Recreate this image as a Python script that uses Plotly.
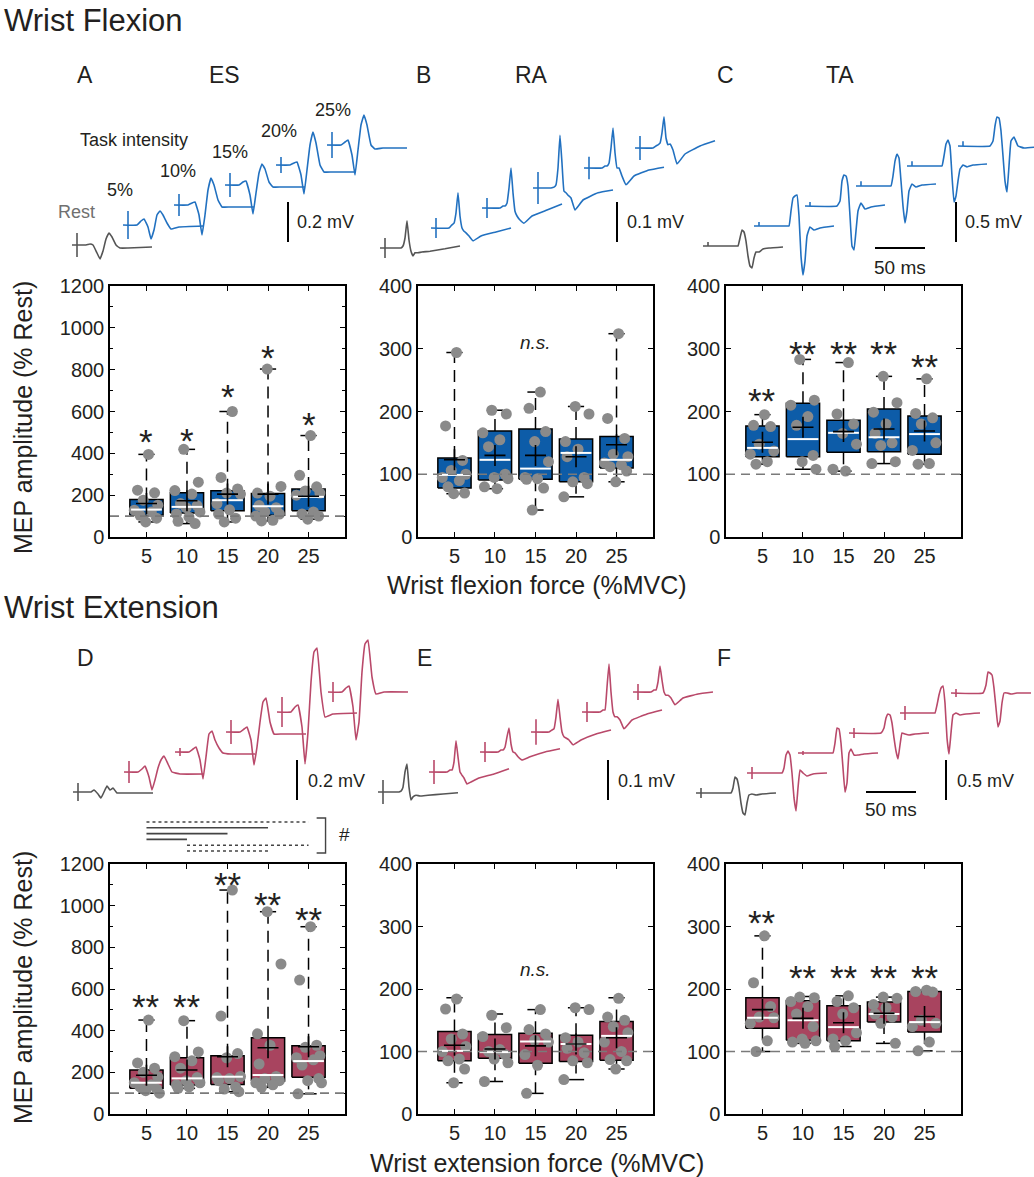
import plotly.graph_objects as go

W, H = 1034, 1177
FONT = "Liberation Sans, Arial, Helvetica, sans-serif"
INK = "#231f20"
BLUE_BOX = "#0d5ca8"
BLUE_TR = "#2271c0"
RED_BOX = "#a8445f"
RED_TR = "#b9496a"
REST_TR = "#555555"
DOT = "#8a8a8a"

force_labels = ["5", "10", "15", "20", "25"]
intensity_labels = ["5%", "10%", "15%", "20%", "25%"]

# ---------------- Box-plot data (MEP amplitude, % Rest) ----------------
# A: ES, wrist flexion
A_q1 = [104, 115, 125, 104, 125]
A_med = [131, 144, 176, 147, 192]
A_q3 = [179, 211, 221, 208, 230]
A_lo = [72, 64, 72, 77, 85]
A_hi = [395, 419, 600, 803, 485]
A_mean = [160, 173, 205, 205, 195]
A_pts = [[395, 224, 211, 176, 152, 128, 120, 104, 90, 72],
         [419, 262, 222, 205, 160, 150, 140, 120, 110, 95, 75, 64],
         [600, 285, 230, 210, 205, 160, 130, 110, 90, 72],
         [803, 242, 210, 195, 150, 140, 120, 110, 100, 80, 77],
         [485, 295, 240, 220, 210, 200, 120, 110, 100, 85]]
A_sig = ["*", "*", "*", "*", "*"]
A_sig_y = [480, 485, 696, 880, 560]

# B: RA, wrist flexion
B_q1 = [78, 91, 92, 88, 110]
B_med = [99, 123, 109, 134, 123]
B_q3 = [126, 169, 172, 156, 160]
B_lo = [69, 77, 43, 64, 88]
B_hi = [294, 202, 231, 208, 324]
B_mean = [123, 130, 130, 128, 147]
B_pts = [[294, 177, 122, 106, 100, 95, 90, 80, 70, 69],
         [202, 196, 166, 155, 144, 100, 95, 93, 80, 77],
         [231, 205, 168, 152, 120, 95, 93, 92, 78, 43],
         [208, 196, 152, 140, 128, 95, 88, 85, 64],
         [324, 189, 157, 132, 128, 118, 115, 112, 105, 88]]
B_sig = ["", "", "", "", ""]
B_sig_y = [0, 0, 0, 0, 0]

# C: TA, wrist flexion
C_q1 = [128, 128, 135, 136, 132]
C_med = [142, 156, 166, 159, 164]
C_q3 = [177, 213, 186, 204, 193]
C_lo = [116, 108, 105, 117, 116]
C_hi = [195, 283, 278, 256, 252]
C_mean = [151, 175, 168, 172, 169]
C_pts = [[195, 178, 176, 148, 137, 132, 120, 116],
         [283, 218, 210, 192, 178, 130, 120, 108],
         [278, 196, 180, 165, 148, 108, 105],
         [256, 214, 199, 180, 165, 150, 146, 120, 117],
         [252, 197, 190, 180, 150, 138, 117, 116]]
C_sig = ["**", "**", "**", "**", "**"]
C_sig_y = [225, 300, 300, 300, 280]

# D: ES, wrist extension
D_q1 = [123, 139, 142, 158, 176]
D_med = [150, 171, 179, 187, 254]
D_q3 = [211, 270, 280, 366, 328]
D_lo = [100, 123, 107, 128, 97]
D_hi = [451, 448, 1075, 971, 899]
D_mean = [186, 211, 275, 318, 323]
D_pts = [[451, 245, 220, 200, 178, 150, 140, 130, 120, 112, 100],
         [448, 298, 275, 255, 220, 175, 160, 150, 140, 130, 123],
         [1075, 470, 290, 270, 180, 175, 170, 160, 130, 120, 107],
         [971, 720, 385, 330, 240, 180, 170, 160, 150, 140, 128],
         [899, 643, 330, 320, 280, 270, 260, 235, 170, 160, 150, 97]]
D_sig = ["**", "**", "**", "**", "**"]
D_sig_y = [542, 538, 1126, 1030, 960]

# E: RA, wrist extension
E_q1 = [85, 89, 81, 84, 86]
E_med = [101, 99, 116, 112, 125]
E_q3 = [132, 127, 129, 126, 148]
E_lo = [50, 52, 33, 55, 72]
E_hi = [186, 160, 167, 170, 186]
E_mean = [110, 104, 109, 112, 122]
E_pts = [[184, 168, 128, 120, 108, 100, 88, 85, 72, 50],
         [158, 138, 124, 103, 100, 95, 88, 82, 52],
         [167, 135, 128, 118, 115, 95, 78, 33],
         [170, 167, 122, 115, 105, 98, 85, 82, 55],
         [185, 155, 150, 140, 130, 115, 100, 87, 85, 72]]
E_sig = ["", "", "", "", ""]
E_sig_y = [0, 0, 0, 0, 0]

# F: TA, wrist extension
F_q1 = [137, 118, 117, 147, 131]
F_med = [154, 150, 139, 160, 147]
F_q3 = [186, 181, 173, 179, 196]
F_lo = [100, 113, 108, 113, 101]
F_hi = [285, 188, 189, 187, 198]
F_mean = [167, 153, 146, 161, 156]
F_pts = [[285, 210, 172, 155, 154, 145, 117, 100],
         [187, 186, 180, 172, 160, 140, 120, 117, 115, 113],
         [189, 180, 170, 160, 130, 120, 117, 108],
         [187, 185, 175, 170, 160, 155, 145, 113],
         [198, 196, 195, 150, 145, 140, 115, 101]]
F_sig = ["**", "**", "**", "**", "**"]
F_sig_y = [315, 226, 226, 226, 226]

# pairwise comparisons (#) for panel D: (from, to, solid?)
D_pairs = [(1, 5, False), (1, 4, True), (1, 3, True), (1, 2, True), (2, 5, False), (2, 4, False)]

# ---------------- Representative MEP waveforms ----------------
# time (ms from sweep start; stimulus at 5 ms) and amplitude (µV) for Rest, 5..25 %MVC
T_ES = [0, 14, 18, 21, 25, 28, 31, 34, 37, 40, 44, 48, 56, 80]
ES_flex = [[0, 0, 5, 0, -40, -70, -30, 30, 60, 40, 0, -15, -15, -10],
           [0, 0, 20, 30, -10, -70, -25, 50, 70, 50, 10, -20, -10, -5],
           [0, 0, 10, 15, -50, -150, -50, 75, 135, 100, 25, -10, -10, -10],
           [0, 0, 15, 20, -50, -145, -40, 60, 105, 80, 15, -10, -10, -10],
           [0, 0, 10, 15, -50, -145, -25, 100, 165, 110, 0, -35, -35, -35],
           [0, 0, 15, 25, -50, -150, -25, 100, 150, 100, 0, -20, -15, -15]]
ES_ext = [[0, 0, 0, 10, -10, -30, 0, 30, 10, 20, -5, -5, -5, -5],
          [0, 0, 15, 30, -25, -90, -40, 20, 60, 80, 40, 0, -10, -10],
          [0, 0, 15, 25, -40, -135, -25, 90, 105, 60, 20, -5, -10, -10],
          [0, 0, 15, 25, -40, -165, -75, 50, 150, 170, 50, -10, -10, -10],
          [0, 0, 25, 35, -75, -260, -100, 150, 300, 320, 100, -25, -10, -5],
          [0, 0, 20, 30, -75, -240, -150, 100, 240, 260, 75, -10, 0, 0]]
T_RA = [0, 18, 21, 23, 25, 27, 29, 31, 33, 35, 38, 42, 50, 65, 80]
RA_flex = [[0, 0, 0, 5, 25, 68, 20, -8, -20, -12, -12, -10, -8, -2, 5],
           [0, 0, 8, 12, 38, 88, 30, 0, -8, -12, -20, -32, -20, -10, 0],
           [0, 0, 5, 5, 12, 50, 100, 38, -8, -20, -30, -38, -20, -5, 10],
           [0, 0, 2, 8, 50, 132, 62, -8, -12, -18, -25, -55, -30, -12, -5],
           [0, 0, 5, 5, 12, 50, 100, 38, 0, 0, -20, -42, -20, -5, 2],
           [0, 0, 5, 8, 12, 38, 78, 25, 8, 10, -5, -40, -15, 5, 18]]
RA_ext = [[0, 0, 0, 2, 12, 50, 70, 12, -20, -12, -8, -10, -8, -5, -2],
          [0, 0, 5, 5, 25, 78, 38, 0, -8, -15, -30, -25, -15, -5, 8],
          [0, 0, 5, 5, 12, 38, 60, 20, 0, -2, -12, -20, -12, 0, 8],
          [0, 0, 5, 8, 38, 82, 38, 0, -12, -15, -20, -32, -20, -5, 5],
          [0, 0, 5, 5, 62, 120, 50, 0, -12, -12, -20, -42, -20, -5, 5],
          [0, 0, 5, 5, 25, 65, 30, 0, -8, -8, -15, -32, -15, -5, 0]]
T_TA = [0, 32, 35, 37, 39, 41, 43, 45, 47, 49, 51, 53, 56, 60, 66, 80]
TA_flex = [[0, 0, 0, 100, 200, 175, 62, -125, -250, -275, -150, -75, -75, -38, -25, -12],
           [0, 0, 0, 188, 350, 375, 388, 125, -375, -612, -438, -125, -12, -50, -25, 0],
           [0, 0, 62, 312, 388, 375, 250, -125, -500, -550, -312, -62, 38, -38, -12, 12],
           [0, 0, 0, 125, 312, 400, 350, 62, -250, -462, -312, -62, 25, -12, 12, 25],
           [0, 0, 0, 125, 275, 325, 250, -125, -450, -375, -188, -38, 12, -12, 12, 25],
           [0, 0, 62, 250, 362, 350, 188, -125, -438, -575, -250, 62, 112, 0, -25, -12]]
TA_ext = [[0, 0, 0, 62, 200, 175, 62, -125, -250, -275, -125, -25, -12, -25, -12, 0],
          [0, 0, 0, 62, 225, 275, 225, 0, -312, -475, -188, 38, 0, -38, -12, 0],
          [0, 0, 0, 125, 312, 300, 125, -188, -488, -375, 0, 50, -25, -25, -12, 0],
          [0, 0, 62, 188, 238, 225, 125, -62, -225, -325, -150, 0, -12, -25, -12, 0],
          [0, 0, 0, 100, 225, 312, 338, 125, -312, -512, -250, -25, 0, -25, -12, 0],
          [0, 0, 100, 262, 250, 225, 62, -188, -425, -350, -125, 0, 0, -12, 0, 0]]
# stimulus artifact half-amplitude (µV)
ART_A = [60, 70, 55, 60, 40, 65]
ART_B = [25, 25, 25, 40, 28, 30]
ART_C = [50, 50, 50, 60, 60, 60]
ART_D = [45, 55, 20, 60, 75, 50]
ART_E = [30, 30, 25, 32, 25, 20]
ART_F = [62, 75, 25, 62, 88, 50]

# ---------------- helpers ----------------
def fx(px):
    return px / W


def fy(py):
    return 1 - py / H


fig = go.Figure()
annotations = []
shapes = []
layout_axes = {}


def ann(text, px, py, size, xanchor="center", color=INK, **kw):
    annotations.append(dict(text=text, x=fx(px), y=fy(py), xref="paper", yref="paper",
                            xanchor=xanchor, yanchor="middle", showarrow=False,
                            font=dict(family=FONT, size=size, color=color), **kw))


def axname(n, kind):
    return kind if n == 1 else f"{kind}{n}"


JITTER = [0.05, -0.22, 0.2, -0.08, 0.28, -0.3, 0.12, -0.16, 0.25, -0.02, 0.32, -0.26]
HW = 0.41
CW = 0.2

box_panels = [
    (1, (110, 345, 286, 537), 1200, BLUE_BOX, A_q1, A_med, A_q3, A_lo, A_hi, A_mean, A_pts, A_sig, A_sig_y),
    (2, (418, 653, 286, 537), 400, BLUE_BOX, B_q1, B_med, B_q3, B_lo, B_hi, B_mean, B_pts, B_sig, B_sig_y),
    (3, (726, 961, 286, 537), 400, BLUE_BOX, C_q1, C_med, C_q3, C_lo, C_hi, C_mean, C_pts, C_sig, C_sig_y),
    (4, (110, 345, 864, 1114), 1200, RED_BOX, D_q1, D_med, D_q3, D_lo, D_hi, D_mean, D_pts, D_sig, D_sig_y),
    (5, (418, 653, 864, 1114), 400, RED_BOX, E_q1, E_med, E_q3, E_lo, E_hi, E_mean, E_pts, E_sig, E_sig_y),
    (6, (726, 961, 864, 1114), 400, RED_BOX, F_q1, F_med, F_q3, F_lo, F_hi, F_mean, F_pts, F_sig, F_sig_y),
]

for n, (l, r, t, b), ymax, fill, q1s, meds, q3s, los, his, means, ptss, sigs, sig_ys in box_panels:
    xa, ya = axname(n, "x"), axname(n, "y")
    common = dict(xaxis=xa, yaxis=ya, showlegend=False, hoverinfo="skip")
    for i in range(5):
        x = i + 1
        q1, med, q3, lo, hi, mean, pts = q1s[i], meds[i], q3s[i], los[i], his[i], means[i], ptss[i]
        fig.add_trace(go.Scatter(x=[x, x, None, x, x], y=[q3, hi, None, q1, lo], mode="lines",
                                 line=dict(color="black", width=1.5, dash="12px,7px"), **common))
        fig.add_trace(go.Scatter(x=[x - CW, x + CW, None, x - CW, x + CW], y=[hi, hi, None, lo, lo],
                                 mode="lines", line=dict(color="black", width=1.5), **common))
        fig.add_trace(go.Scatter(x=[x - HW, x + HW, x + HW, x - HW, x - HW], y=[q1, q1, q3, q3, q1],
                                 mode="lines", fill="toself", fillcolor=fill,
                                 line=dict(color="black", width=1.5), **common))
        offs = [JITTER[(j + 3 * i) % len(JITTER)] for j in range(len(pts))]
        fig.add_trace(go.Scatter(x=[x + o for o in offs], y=pts, mode="markers",
                                 marker=dict(color=DOT, size=11, line=dict(width=0)), **common))
        fig.add_trace(go.Scatter(x=[x - HW + 0.03, x + HW - 0.03], y=[med, med], mode="lines",
                                 line=dict(color="white", width=2), **common))
        fig.add_trace(go.Scatter(x=[x], y=[mean], mode="markers",
                                 marker=dict(symbol="cross-thin", size=15, color="black",
                                             line=dict(color="black", width=1.6)), **common))
        if sigs[i]:
            annotations.append(dict(text=sigs[i], x=x, y=sig_ys[i], xref=xa, yref=ya, showarrow=False,
                                    xanchor="center", yanchor="middle", yshift=-5,
                                    font=dict(family=FONT, size=35, color=INK)))
    shapes.append(dict(type="line", xref=f"{xa} domain", yref=ya, x0=0, x1=1, y0=100, y1=100,
                       line=dict(color="#7a7a7a", width=1.6, dash="9px,6px"), layer="above"))
    axis_common = dict(showline=True, linecolor="black", linewidth=1.5, mirror="ticks",
                       ticks="inside", ticklen=5, tickwidth=1.3, tickcolor="black",
                       showgrid=False, zeroline=False, automargin=False,
                       tickfont=dict(family=FONT, size=20, color=INK))
    layout_axes["xaxis" if n == 1 else f"xaxis{n}"] = dict(
        domain=[fx(l), fx(r)], range=[0.1, 5.9], tickvals=[1, 2, 3, 4, 5], ticktext=force_labels,
        anchor=ya, **axis_common)
    ydict = dict(domain=[fy(b), fy(t)], range=[0, ymax], dtick=ymax / (6 if ymax > 400 else 4),
                 anchor=xa, **axis_common)
    if ymax > 400:
        ydict["minor"] = dict(dtick=100, ticks="inside", ticklen=3, tickcolor="black", showgrid=False)
    layout_axes["yaxis" if n == 1 else f"yaxis{n}"] = ydict

# n.s. labels
annotations.append(dict(text="<i>n.s.</i>", x=3, y=310, xref="x2", yref="y2", showarrow=False,
                        font=dict(family=FONT, size=19, color=INK)))
annotations.append(dict(text="<i>n.s.</i>", x=3, y=231, xref="x5", yref="y5", showarrow=False,
                        font=dict(family=FONT, size=19, color=INK)))

# # comparison lines in panel D
for row, (a, b, solid) in enumerate(D_pairs):
    py = 822 + row * 5.8
    shapes.append(dict(type="line", xref="x4", yref="paper", x0=a, x1=b, y0=fy(py), y1=fy(py),
                       line=dict(color="#444444", width=1.6 if solid else 1.4,
                                 dash="solid" if solid else "dot")))
shapes.append(dict(type="path", xref="x4", yref="paper",
                   path=f"M 5.2,{fy(818)} L 5.42,{fy(818)} L 5.42,{fy(853)} L 5.2,{fy(853)}",
                   line=dict(color="#444444", width=1.4)))
ann("#", 337, 834, 19, xanchor="left")

# ---------------- waveform panels ----------------
STEP_MS = 51
STEP_PX = 20
trace_panels = [
    (7, 72, 245, 200, T_ES, ES_flex, ART_A, True, BLUE_TR, (216, 0.015, 0.2), None),
    (8, 380, 248, 400, T_RA, RA_flex, ART_B, True, BLUE_TR, (237, 0.015, 0.1), None),
    (9, 703, 246, 80, T_TA, TA_flex, ART_C, False, BLUE_TR, (253, 0.05, 0.5), (172, -0.025)),
    (10, 73, 792, 200, T_ES, ES_ext, ART_D, True, RED_TR, (224, -0.04, 0.2), None),
    (11, 378, 792, 400, T_RA, RA_ext, ART_E, True, RED_TR, (230, -0.02, 0.1), None),
    (12, 696, 793, 80, T_TA, TA_ext, ART_F, True, RED_TR, (250, -0.0875, 0.5), (170, 0.0125)),
]
for n, L, base, ppm, T, vals, art, sym, col, bar, tbar in trace_panels:
    xa, ya = f"x{n}", f"y{n}"
    common = dict(xaxis=xa, yaxis=ya, showlegend=False, hoverinfo="skip")
    wid = min(360, W - L)
    layout_axes[f"xaxis{n}"] = dict(domain=[fx(L), fx(L + wid)], range=[0, wid], visible=False,
                                    anchor=ya, fixedrange=True, automargin=False)
    layout_axes[f"yaxis{n}"] = dict(domain=[fy(base + 45), fy(base - 170)],
                                    range=[-45 / ppm, 170 / ppm], visible=False, anchor=xa,
                                    fixedrange=True, automargin=False)
    for k in range(6):
        color = REST_TR if k == 0 else col
        x0 = k * STEP_MS
        y0 = k * STEP_PX / ppm
        fig.add_trace(go.Scatter(x=[x0 + t for t in T], y=[y0 + v / 1000 for v in vals[k]],
                                 mode="lines",
                                 line=dict(color=color, width=1.6, shape="spline", smoothing=0.3),
                                 **common))
        a = art[k] / 1000
        fig.add_trace(go.Scatter(x=[x0 + 5, x0 + 5], y=[y0 - a if sym else y0, y0 + a],
                                 mode="lines", line=dict(color=color, width=1.6), **common))
    bx, by0, blen = bar
    fig.add_trace(go.Scatter(x=[bx, bx], y=[by0, by0 + blen], mode="lines",
                             line=dict(color="black", width=2), **common))
    if tbar:
        tx0, ty = tbar
        fig.add_trace(go.Scatter(x=[tx0, tx0 + 50], y=[ty, ty], mode="lines",
                                 line=dict(color="black", width=2), **common))

# ---------------- text ----------------
ann("Wrist Flexion", 2, 20, 31, xanchor="left")
ann("Wrist Extension", 2, 607, 31, xanchor="left")
for txt, px, py in [("A", 85, 75), ("ES", 224, 75), ("B", 423, 75), ("RA", 531, 75),
                    ("C", 725, 75), ("TA", 840, 75), ("D", 85, 658), ("E", 424, 658), ("F", 724, 658)]:
    ann(txt, px, py, 23)
ann("Task intensity", 134, 140, 18)
for lab, px, py in zip(intensity_labels, [120, 178, 230, 279, 333], [190, 171, 152, 131, 110]):
    ann(lab, px, py, 18)
ann("Rest", 76, 212, 18, color="#707070")
ann("0.2 mV", 295, 222, 18, xanchor="left")
ann("0.1 mV", 625, 222, 18, xanchor="left")
ann("0.5 mV", 963, 222, 18, xanchor="left")
ann("50 ms", 900, 267, 19)
ann("0.2 mV", 306, 781, 18, xanchor="left")
ann("0.1 mV", 616, 781, 18, xanchor="left")
ann("0.5 mV", 955, 781, 18, xanchor="left")
ann("50 ms", 891, 809, 19)
ann("MEP amplitude (% Rest)", 23, 418, 25, textangle=-90)
ann("MEP amplitude (% Rest)", 23, 988, 25, textangle=-90)
ann("Wrist flexion force (%MVC)", 537, 585, 25)
ann("Wrist extension force (%MVC)", 537, 1163, 25)

fig.update_layout(width=W, height=H, margin=dict(l=0, r=0, t=0, b=0, pad=0, autoexpand=False),
                  paper_bgcolor="white", plot_bgcolor="rgba(0,0,0,0)", showlegend=False,
                  annotations=annotations, shapes=shapes, **layout_axes)
fig.write_html("out.html", post_script="document.body.style.margin='0';",
               config={"displayModeBar": False, "responsive": False})
